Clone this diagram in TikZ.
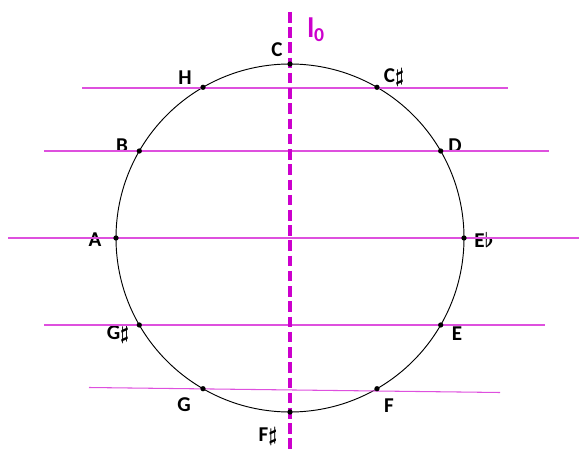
\documentclass[tikz,border=0pt]{standalone}
\usepackage{fontspec}
\usepackage{amsmath}
\setmainfont{Carlito}
\usetikzlibrary{calc}
\definecolor{lila}{RGB}{204,0,204}
\definecolor{lilahell}{RGB}{222,80,222}
\newcommand{\kreuz}{$\boldsymbol\sharp$}
\newcommand{\be}{$\boldsymbol\flat$}
\begin{document}
\begin{tikzpicture}[x=0.03cm, y=-0.03cm, >=stealth,
    pt/.style={circle, fill=black, inner sep=0pt, minimum size=4.5pt},
    lab/.style={font=\fontsize{18}{20}\selectfont\bfseries},
    hline/.style={draw=lilahell, line width=0.9pt},
    axis/.style={draw=lila, line width=2.6pt, dash pattern=on 9pt off 4pt}]
    \useasboundingbox (0,0) rectangle (579,450);

    % Kreis und Punkte
    \coordinate (M) at (290,238);
    \draw[line width=0.8pt] (M) circle (174);
    \foreach \n/\w in {C/90, Cis/60, D/30, Es/0, E/-30, F/-60, Fis/-90, G/-120, Gis/-150, A/180, B/150, H/120}
        \coordinate (\n) at ($(M)+(\w:174 and -174)$);

    % Beschriftung
    \node[lab] (lC) at (277,50) {C};
    \node[lab] (lCis) at (394,77) {C\kreuz};
    \node[lab] (lD) at (455,146) {D};
    \node[lab] (lEs) at (484,240) {E\be};
    \node[lab] (lE) at (457,334) {E};
    \node[lab] (lF) at (389,406) {F};
    \node[lab] (lFis) at (268,436) {F\kreuz};
    \node[lab] (lG) at (184,405) {G};
    \node[lab] (lGis) at (118,334) {G\kreuz};
    \node[lab] (lA) at (95,240) {A};
    \node[lab] (lB) at (122,146) {B};
    \node[lab] (lH) at (185,78) {H};

    % Parallelen
    \coordinate (h1l) at (82,88);  \coordinate (h1r) at (508,88);
    \coordinate (h2l) at (44,151); \coordinate (h2r) at (549,151);
    \coordinate (h3l) at (8,238);  \coordinate (h3r) at (579,238);
    \coordinate (h4l) at (44,325); \coordinate (h4r) at (545,325);
    \coordinate (h5l) at (89,387.5); \coordinate (h5r) at (500,392.5);
    \foreach \i in {1,...,5}
        \draw[hline] (h\i l) -- (h\i r);

    % Achse
    \coordinate (a1) at (290,12);
    \coordinate (a2) at (290,450);
    \draw[axis] (a1) -- (a2);
    \node[lab, text=lila, font=\fontsize{24}{26}\selectfont\bfseries] (l0) at (316,30) {l$_{\mathbf 0}$};

    % Punkte oben drauf
    \foreach \n in {C, Cis, D, Es, E, F, Fis, G, Gis, A, B, H}
        \node[pt] at (\n) {};
\end{tikzpicture}
\end{document}
